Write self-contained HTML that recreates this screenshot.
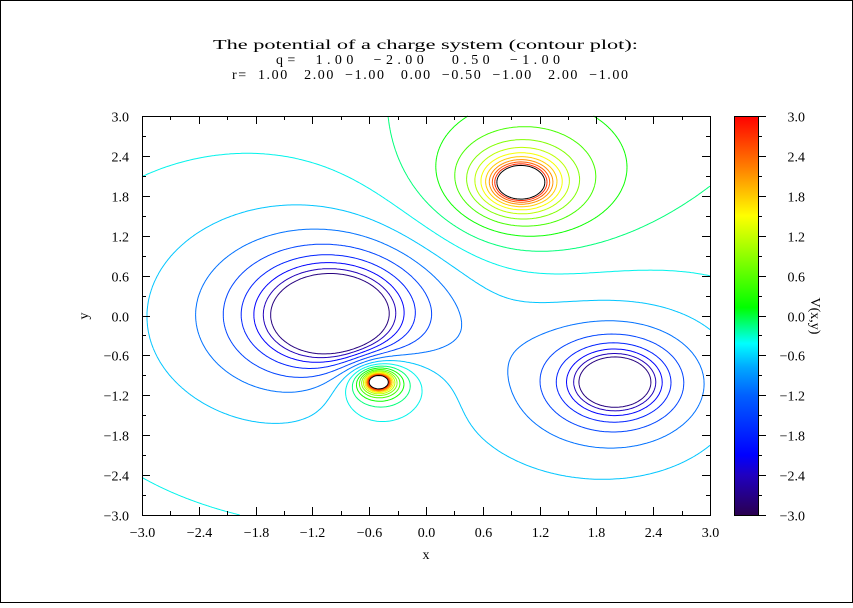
<!DOCTYPE html>
<html><head><meta charset="utf-8"><style>
body{margin:0;background:#fff}
svg text{font-family:"Liberation Serif",serif;font-size:14px;fill:#000;white-space:pre}
</style></head><body>
<svg id="s" width="853" height="603" xmlns="http://www.w3.org/2000/svg">
<rect x="0.5" y="0.5" width="852" height="602" fill="#fff" stroke="#000"/>
<text x="213" y="49" textLength="425" lengthAdjust="spacingAndGlyphs">The potential of a charge system (contour plot):</text>
<text x="276" y="64" textLength="284" lengthAdjust="spacing">q=  1.00  −2.00   0.50  −1.00</text>
<text x="232" y="79" textLength="396" lengthAdjust="spacing">r=  1.00   2.00  −1.00   0.00  −0.50  −1.00   2.00  −1.00</text>
<defs><linearGradient id="cb" x1="0" y1="1" x2="0" y2="0">
<stop offset="0" stop-color="#2a0050"/><stop offset="0.1" stop-color="#2000c0"/>
<stop offset="0.15" stop-color="#0000ff"/><stop offset="0.3" stop-color="#0060ff"/>
<stop offset="0.37" stop-color="#00a8ff"/>
<stop offset="0.43" stop-color="#00ffff"/><stop offset="0.52" stop-color="#00ff00"/>
<stop offset="0.75" stop-color="#ffff00"/><stop offset="0.87" stop-color="#ff8000"/>
<stop offset="1" stop-color="#ff0000"/></linearGradient></defs>
<rect x="734" y="116" width="24" height="399" fill="url(#cb)"/>
<g id="cont" fill="none" stroke-width="1"></g>
<g id="ax" stroke="#000" fill="none"></g>
<g id="lab"></g>
<text x="426" y="559" text-anchor="middle">x</text>
<text transform="translate(88,316) rotate(-90)" text-anchor="middle">y</text>
<text transform="translate(811,316) rotate(90)" text-anchor="middle">V(x,y)</text>
</svg>
<script>
var X0=142,X1=710,Y0=515,Y1=116;
function px(x){return X0+(x+3)/6*(X1-X0)}
function py(y){return Y0-(y+3)/6*(Y0-Y1)}
var Q=[[1,1,2],[-2,-1,0],[0.5,-0.5,-1],[-1,2,-1]];
function V(x,y){var s=0;for(var i=0;i<4;i++){var dx=x-Q[i][1],dy=y-Q[i][2];s+=Q[i][0]/Math.sqrt(dx*dx+dy*dy+1e-9);}return s}
var stops=[[-3,[42,0,80]],[-2.4,[32,0,192]],[-2.1,[0,0,255]],[-1.2,[0,96,255]],[-0.8,[0,200,255]],[-0.4,[0,255,230]],[0.1,[0,255,0]],[1.5,[255,255,0]],[2.2,[255,128,0]],[3,[255,0,0]]];
function col(v){for(var i=0;i<stops.length-1;i++){var a=stops[i],b=stops[i+1];if(v<=b[0]){var t=(v-a[0])/(b[0]-a[0]);t=Math.max(0,Math.min(1,t));var c=a[1].map(function(u,k){return Math.round(u+(b[1][k]-u)*t)});return "rgb("+c+")";}}return "rgb(255,0,0)"}
var N=300,g=[];
for(var j=0;j<=N;j++){g[j]=[];for(var i=0;i<=N;i++)g[j][i]=V(-3+6*i/N,-3+6*j/N);}
var cont=document.getElementById("cont"),ns="http://www.w3.org/2000/svg";
var levels=[];for(var k=-9;k<=9;k++)levels.push((k+0.5)*0.324);
levels.forEach(function(L){var d="";
for(var j=0;j<N;j++)for(var i=0;i<N;i++){
var v=[g[j][i],g[j][i+1],g[j+1][i+1],g[j+1][i]];
var P=[[i,j],[i+1,j],[i+1,j+1],[i,j+1]];var pts=[];
for(var e=0;e<4;e++){var a=v[e],b=v[(e+1)%4];if((a<L)!=(b<L)){var t=(L-a)/(b-a);var xx=P[e][0]+(P[(e+1)%4][0]-P[e][0])*t,yy=P[e][1]+(P[(e+1)%4][1]-P[e][1])*t;pts.push([px(-3+6*xx/N),py(-3+6*yy/N)]);}}
for(var m=0;m+1<pts.length;m+=2)d+="M"+pts[m][0].toFixed(1)+" "+pts[m][1].toFixed(1)+"L"+pts[m+1][0].toFixed(1)+" "+pts[m+1][1].toFixed(1);}
var p=document.createElementNS(ns,"path");p.setAttribute("d",d);p.setAttribute("stroke",L>3?"#000":col(L));cont.appendChild(p);});
var ax=document.getElementById("ax"),lab=document.getElementById("lab"),d="M142.5 116.5H710.5V515.5H142.5Z";
for(var k=0;k<=20;k++){var t=-3+0.3*k,maj=k%2==0,l=maj?8:4;var x=Math.round(px(t))+.5,y=Math.round(py(t))+.5;
d+="M"+x+" 515V"+(515-l)+"M"+x+" 116V"+(116+l)+"M142 "+y+"H"+(142+l)+"M710 "+y+"H"+(710-l)+"M758 "+y+"H"+(758+(maj?8:4));
if(maj){var s=(t<-0.01?"−":"")+Math.abs(t).toFixed(1);
var tx=document.createElementNS(ns,"text");tx.setAttribute("x",x);tx.setAttribute("y",537);tx.setAttribute("text-anchor","middle");tx.textContent=s;lab.appendChild(tx);
tx=document.createElementNS(ns,"text");tx.setAttribute("x",129);tx.setAttribute("y",y+5);tx.setAttribute("text-anchor","end");tx.textContent=s;lab.appendChild(tx);
tx=document.createElementNS(ns,"text");tx.setAttribute("x",805);tx.setAttribute("y",y+5);tx.setAttribute("text-anchor","end");tx.textContent=s;lab.appendChild(tx);}}
d+="M734.5 116.5H758.5V515.5H734.5Z";
var p=document.createElementNS(ns,"path");p.setAttribute("d",d);ax.appendChild(p);
</script>
</body></html>
